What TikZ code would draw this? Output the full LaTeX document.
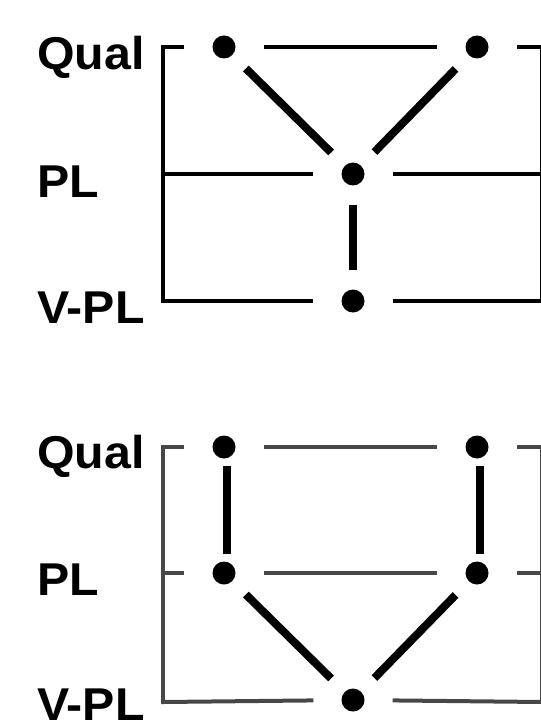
\documentclass[tikz,border=0pt]{standalone}
\usepackage{fontspec}
\setmainfont{Liberation Sans}
\begin{document}
\begin{tikzpicture}[x=1pt,y=-1pt,
  dot/.style={circle,fill=black,inner sep=0pt,minimum size=23pt},
  lvl/.style={anchor=base west,inner sep=0pt,font=\fontsize{46}{50}\selectfont\bfseries},
  rule/.style={line width=4pt,line cap=rect},
  gapL/.style={shorten <=30pt},
  gapR/.style={shorten >=30pt},
  link/.style={line width=8pt,shorten <=19pt,shorten >=19pt},
]
\useasboundingbox (0,0) rectangle (540,727);

% ---------- upper lattice ----------
\node[lvl] (tQual) at (37,70)  {\scalebox{1.05}[1]{Qual}};
\node[lvl] (tPL)   at (37,197) {\scalebox{1.05}[1]{PL}};
\node[lvl] (tVPL)  at (37,323) {\scalebox{1.05}[1]{V-PL}};

\coordinate (lq) at (163,47);
\coordinate (lp) at (163,174);
\coordinate (lv) at (163,301);
\coordinate (rq) at (541.7,47);
\coordinate (rp) at (541.7,174);
\coordinate (rv) at (541.7,301);

\node[dot] (a1) at (224,47)  {};
\node[dot] (a2) at (477,47)  {};
\node[dot] (a3) at (353,174) {};
\node[dot] (a4) at (353,301) {};

\begin{scope}[black]
  \draw[rule] (lq) -- (lv);
  \draw[rule] (rq) -- (rv);
  \draw[rule,gapR] (lq) -- (a1);
  \draw[rule,gapL,gapR] (a1) -- (a2);
  \draw[rule,gapL] (a2) -- (rq);
  \draw[rule,gapR] (lp) -- (a3);
  \draw[rule,gapL] (a3) -- (rp);
  \draw[rule,gapR] (lv) -- (a4);
  \draw[rule,gapL] (a4) -- (rv);
\end{scope}

\draw[link] (a1) -- (a3);
\draw[link] (a2) -- (a3);
\draw[link] (a3) -- (a4);

% ---------- lower lattice ----------
\node[lvl] (bQual) at (37,468) {\scalebox{1.05}[1]{Qual}};
\node[lvl] (bPL)   at (37,595) {\scalebox{1.05}[1]{PL}};
\node[lvl] (bVPL)  at (37,720) {\scalebox{1.05}[1]{V-PL}};

\coordinate (mq) at (163,447);
\coordinate (mp) at (163,573);
\coordinate (mv) at (163,702);
\coordinate (sq) at (541.7,447);
\coordinate (sp) at (541.7,573);
\coordinate (sv) at (541.7,702);

\node[dot] (b1) at (224,447) {};
\node[dot] (b2) at (477,447) {};
\node[dot] (b3) at (224,573) {};
\node[dot] (b4) at (477,573) {};
\node[dot] (b5) at (353,700) {};

\begin{scope}[black!72]
  \draw[rule] (mq) -- (mv);
  \draw[rule] (sq) -- (sv);
  \draw[rule,gapR] (mq) -- (b1);
  \draw[rule,gapL,gapR] (b1) -- (b2);
  \draw[rule,gapL] (b2) -- (sq);
  \draw[rule,gapR] (mp) -- (b3);
  \draw[rule,gapL,gapR] (b3) -- (b4);
  \draw[rule,gapL] (b4) -- (sp);
  \draw[rule,gapR] (mv) -- (b5);
  \draw[rule,gapL] (b5) -- (sv);
\end{scope}

\draw[link] ([xshift=3pt]b1.center) -- ([xshift=3pt]b3.center);
\draw[link] ([xshift=3pt]b2.center) -- ([xshift=3pt]b4.center);
\draw[link] (b3) -- (b5);
\draw[link] (b4) -- (b5);
\end{tikzpicture}
\end{document}
